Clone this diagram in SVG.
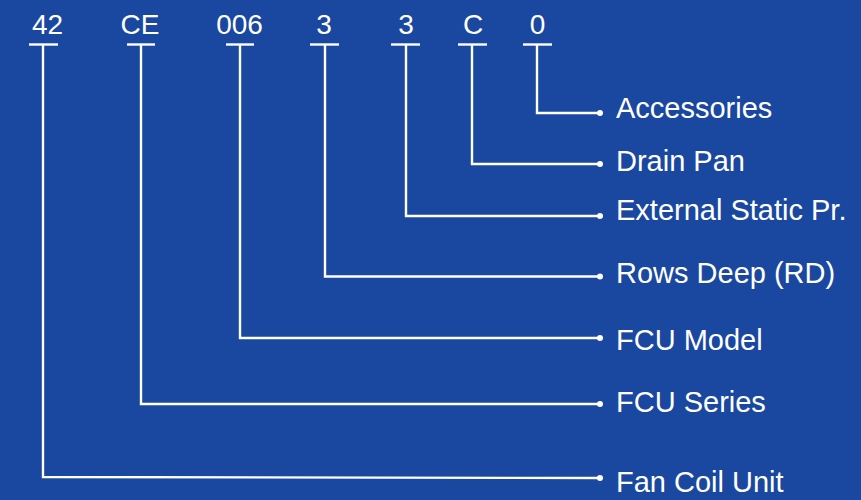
<svg xmlns="http://www.w3.org/2000/svg" width="861" height="500" viewBox="0 0 861 500">
<style>
.code{font-family:"Liberation Sans",Arial,sans-serif;font-size:28px;fill:#fff;text-anchor:middle}
.lbl{font-family:"Liberation Sans",Arial,sans-serif;font-size:29px;fill:#fff}
.ln{stroke:#fff;stroke-width:2.4;fill:none}
.dot{fill:#fff}
</style>
<rect width="861" height="500" fill="#1A479F"/>
<g id="codes">
<g id="c42"><text class="code" x="47.5" y="34">42</text><line class="ln" x1="29" y1="44.5" x2="58" y2="44.5"/></g>
<g id="cCE"><text class="code" x="140" y="34">CE</text><line class="ln" x1="127" y1="44.5" x2="155" y2="44.5"/></g>
<g id="c006"><text class="code" x="239.5" y="34">006</text><line class="ln" x1="226" y1="44.5" x2="254" y2="44.5"/></g>
<g id="c3a"><text class="code" x="324" y="34">3</text><line class="ln" x1="310" y1="44.5" x2="339" y2="44.5"/></g>
<g id="c3b"><text class="code" x="406" y="34">3</text><line class="ln" x1="391" y1="44.5" x2="420" y2="44.5"/></g>
<g id="cC"><text class="code" x="473" y="34">C</text><line class="ln" x1="458" y1="44.5" x2="487" y2="44.5"/></g>
<g id="c0"><text class="code" x="537.5" y="34">0</text><line class="ln" x1="523" y1="44.5" x2="552" y2="44.5"/></g>
</g>
<g id="connectors">
<polyline class="ln" points="537,44.5 537,113 600,113"/>
<polyline class="ln" points="472,44.5 472,164 600,164"/>
<polyline class="ln" points="406,44.5 406,216 600,216"/>
<polyline class="ln" points="325,44.5 325,276.5 600,276.5"/>
<polyline class="ln" points="240,44.5 240,338 600,338"/>
<polyline class="ln" points="141,44.5 141,404 600,404"/>
<polyline class="ln" points="43,44.5 43,477 600,478"/>
<circle class="dot" cx="600" cy="113" r="3"/>
<circle class="dot" cx="600" cy="164" r="3"/>
<circle class="dot" cx="600" cy="216" r="3"/>
<circle class="dot" cx="600" cy="276.5" r="3"/>
<circle class="dot" cx="600" cy="338" r="3"/>
<circle class="dot" cx="600" cy="404" r="3"/>
<circle class="dot" cx="600" cy="478" r="3"/>
</g>
<g id="labels">
<g id="l-acc"><text class="lbl" x="616" y="118">Accessories</text></g>
<g id="l-drain"><text class="lbl" x="616" y="170.5">Drain Pan</text></g>
<g id="l-esp"><text class="lbl" x="616" y="220">External Static Pr.</text></g>
<g id="l-rd"><text class="lbl" x="616" y="283">Rows Deep (RD)</text></g>
<g id="l-model"><text class="lbl" x="616" y="350">FCU Model</text></g>
<g id="l-series"><text class="lbl" x="616" y="412">FCU Series</text></g>
<g id="l-fcu"><text class="lbl" x="616" y="492">Fan Coil Unit</text></g>
</g>
</svg>
